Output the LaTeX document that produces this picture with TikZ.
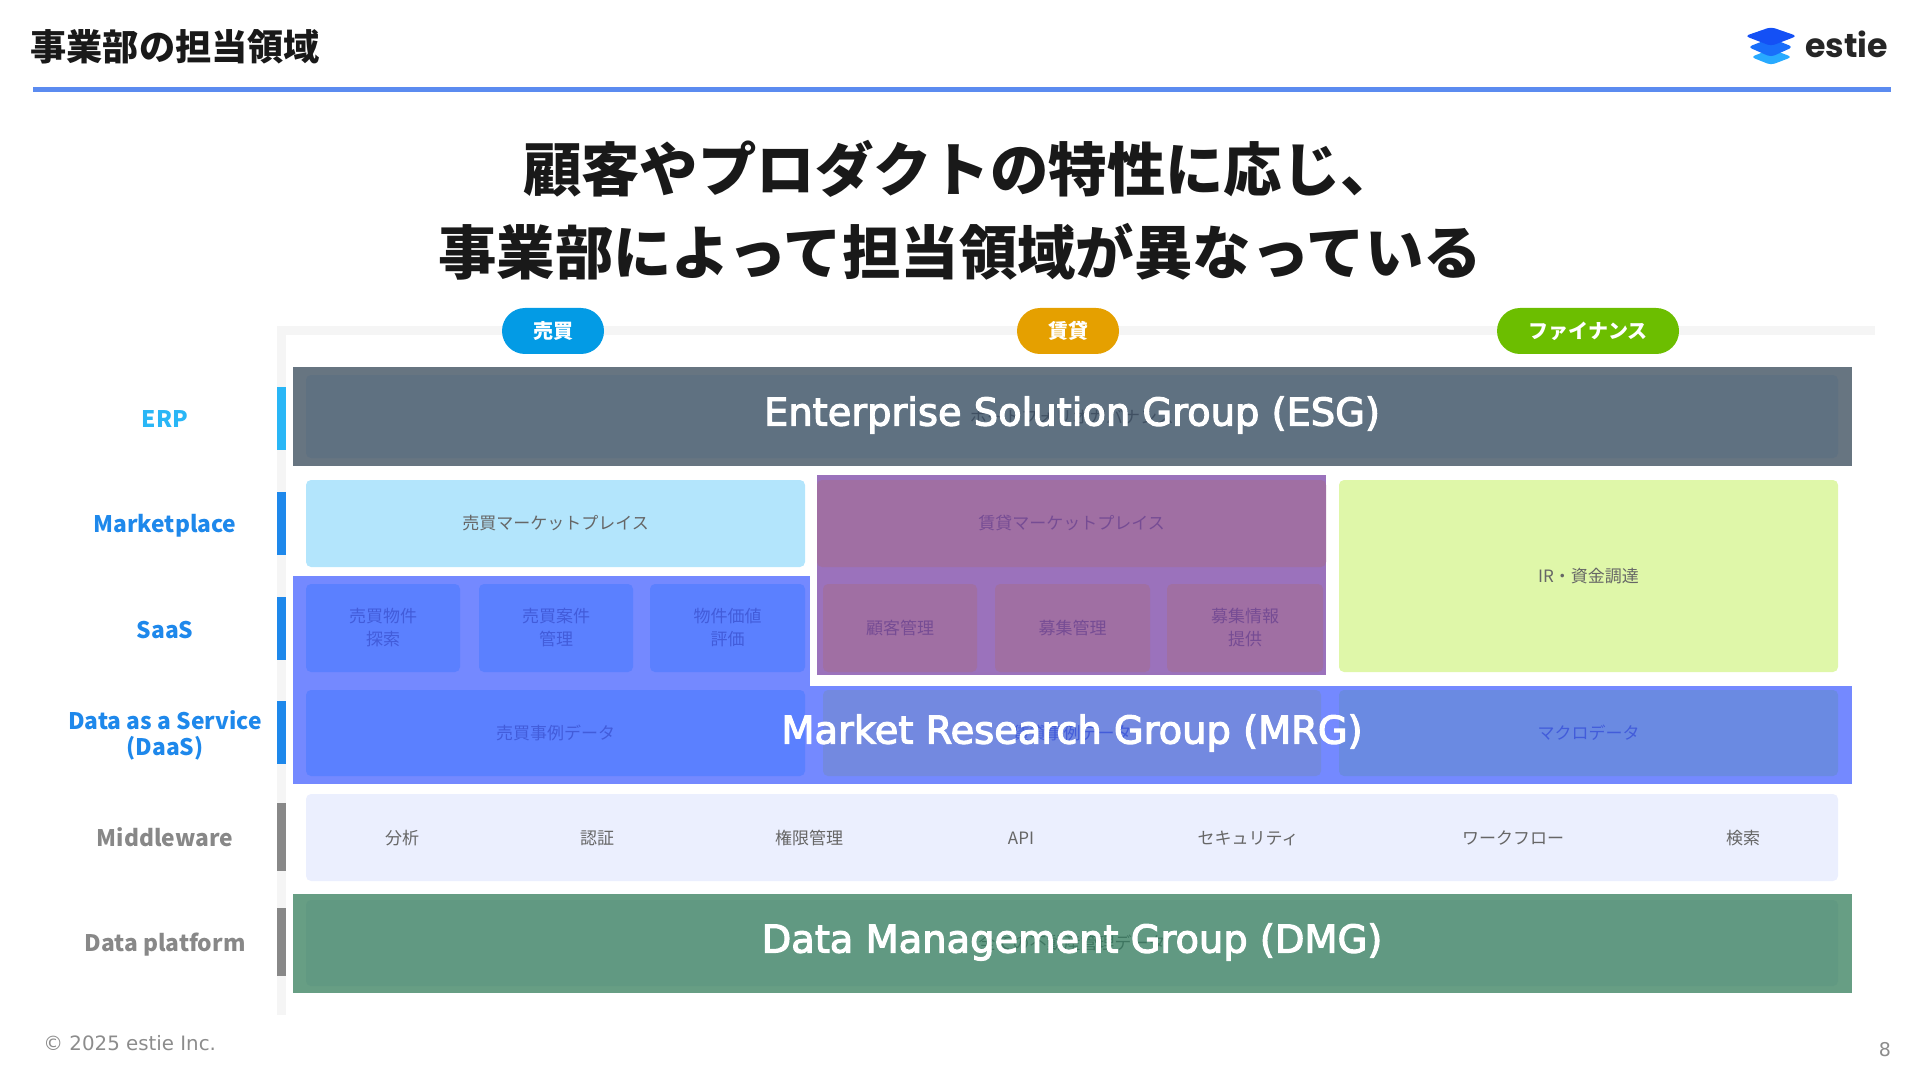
\documentclass[tikz,border=0pt]{standalone}
\usepackage{fontspec}
\setmainfont{Noto Sans CJK JP}
\newfontfamily\groupfont[FakeBold=3]{DejaVu Sans}
\newfontfamily\footfont{DejaVu Sans}
\newfontfamily\logofont{Poppins}
\usepackage{xcolor}
\definecolor{saleblue}{RGB}{3,155,229}
\definecolor{rentamber}{RGB}{229,160,0}
\definecolor{financegreen}{RGB}{108,190,0}
\definecolor{ruleblue}{RGB}{91,139,240}
\definecolor{bandgrey}{RGB}{245,245,245}
\definecolor{erpcyan}{RGB}{41,182,246}
\definecolor{layerblue}{RGB}{30,136,235}
\definecolor{layergrey}{RGB}{136,136,136}
\definecolor{esgslate}{RGB}{103,117,129}
\definecolor{esginner}{RGB}{95,113,129}
\definecolor{esgtext}{RGB}{64,80,98}
\definecolor{mrgblue}{RGB}{116,137,255}
\definecolor{tileblue}{RGB}{91,128,255}
\definecolor{tiletext}{RGB}{66,92,218}
\definecolor{saleplate}{RGB}{179,229,252}
\definecolor{rentviolet}{RGB}{155,114,188}
\definecolor{rentplum}{RGB}{160,111,163}
\definecolor{renttext}{RGB}{118,76,148}
\definecolor{rentdatafill}{RGB}{115,137,224}
\definecolor{macrofill}{RGB}{106,138,226}
\definecolor{fundfill}{RGB}{223,247,169}
\definecolor{middlefill}{RGB}{235,239,254}
\definecolor{dmggreen}{RGB}{103,158,132}
\definecolor{dmginner}{RGB}{97,153,130}
\definecolor{dmgtext}{RGB}{62,117,96}
\definecolor{logotop}{RGB}{20,80,245}
\definecolor{logomid}{RGB}{25,110,250}
\definecolor{logolow}{RGB}{40,170,255}
\usetikzlibrary{positioning}

\begin{document}
\begin{tikzpicture}[
  x=0.5pt, y=-0.5pt,
  wh/.style 2 args={minimum width=#1*0.5pt, minimum height=#2*0.5pt},
  plate/.style={anchor=north west, inner sep=0pt, outer sep=0pt},
  tile/.style={plate, rounded corners=2.5pt, align=center, font=\fontsize{8.5}{11.5}\selectfont, text=black!60},
  saletile/.style={tile, fill=tileblue, text=tiletext},
  renttile/.style={tile, fill=rentplum, text=renttext},
  grouptitle/.style={text=white, font=\groupfont\fontsize{19.2}{22}\selectfont},
  tick/.style={plate, wh={9}{#1}},
  layer/.style={font=\bfseries\fontsize{11.4}{13}\selectfont, align=center},
  pill/.style={rounded corners=11.5pt, minimum height=23pt, inner sep=0pt, text=white, font=\bfseries\fontsize{10}{12}\selectfont},
  mwitem/.style={font=\fontsize{8.5}{11}\selectfont, text=black!60},
  slidetitle/.style={font=\bfseries\fontsize{29.2}{34}\selectfont, text=black!90},
]
  \useasboundingbox (0,0) rectangle (1920,1080);

  % header
  \node[anchor=west, inner sep=0pt, font=\bfseries\fontsize{18.1}{20}\selectfont, text=black!90] (heading) at (30,47) {事業部の担当領域};
  \node[plate, fill=ruleblue, wh={1858}{5}] (headrule) at (33,87) {};
  \fill[rounded corners=2pt, fill=logolow] (1751,57) -- (1771,49) -- (1792,57) -- (1771,65) -- cycle;
  \fill[rounded corners=2pt, fill=logomid] (1748,47) -- (1771,38) -- (1793,47) -- (1771,57) -- cycle;
  \fill[rounded corners=2pt, fill=logotop] (1745,36) -- (1771,27) -- (1797,36) -- (1771,46) -- cycle;
  \node[anchor=west, inner sep=0pt, text=black!85, font=\logofont\bfseries\fontsize{16.6}{18}\selectfont] (logotext) at (1805,44) {estie};

  % slide title
  \node[slidetitle] (titleone) at (961,169) {顧客やプロダクトの特性に応じ、};
  \node[slidetitle] (titletwo) at (960,252) {事業部によって担当領域が異なっている};

  % axes
  \node[plate, fill=bandgrey, wh={1598}{9}] (bandtop) at (277,326) {};
  \node[plate, fill=bandgrey, wh={9}{689}] (bandleft) at (277,326) {};
  \node[pill, fill=saleblue, minimum width=51pt] (sale) at (553,331) {売買};
  \node[pill, fill=rentamber, minimum width=51pt] (rent) at (1068,331) {賃貸};
  \node[pill, fill=financegreen, minimum width=91pt] (finance) at (1588,331) {ファイナンス};

  % layer names and ticks
  \node[tick=63, fill=erpcyan] (erptick) at (277,387) {};
  \node[tick=63, fill=layerblue] (markettick) at (277,492) {};
  \node[tick=63, fill=layerblue] (saastick) at (277,597) {};
  \node[tick=63, fill=layerblue] (daastick) at (277,701) {};
  \node[tick=68, fill=layergrey] (middletick) at (277,803) {};
  \node[tick=68, fill=layergrey] (platformtick) at (277,908) {};
  \node[layer, text=erpcyan] (erp) at (165,419) {ERP};
  \node[layer, text=layerblue] (market) at (165,526) {Marketplace};
  \node[layer, text=layerblue] (saas) at (165,630) {SaaS};
  \node[layer, text=layerblue] (daas) at (165,735) {Data as a Service\\(DaaS)};
  \node[layer, text=layergrey] (middle) at (165,837) {Middleware};
  \node[layer, text=layergrey] (platform) at (165,945) {Data platform};

  % ESG
  \node[plate, fill=esgslate, wh={1559}{99}] (esg) at (293,367) {};
  \node[tile, fill=esginner, wh={1532}{83}, text=esgtext] (portfolio) at (306,375) {ポートフォリオガバナンス};
  \node[grouptitle] (esgtitle) at (1072,415) {Enterprise Solution Group (ESG)};

  % sale column
  \node[tile, fill=saleplate, wh={499}{87}] (salemarket) at (306,480) {売買マーケットプレイス};
  \node[plate, fill=mrgblue, wh={517}{110}] (mrgsale) at (293,576) {};
  \node[plate, fill=mrgblue, wh={1559}{98}] (mrg) at (293,686) {};
  \node[saletile, wh={154}{88}] (salesearch) at (306,584) {売買物件\\探索};
  \node[saletile, wh={154}{88}] (salecase) at (479,584) {売買案件\\管理};
  \node[saletile, wh={155}{88}] (saleprice) at (650,584) {物件価値\\評価};
  \node[saletile, wh={499}{86}] (saledata) at (306,690) {売買事例データ};

  % rent column
  \node[plate, fill=rentviolet, wh={509}{200}] (rentgroup) at (817,475) {};
  \node[renttile, wh={509}{87}] (rentmarket) at (817,480) {賃貸マーケットプレイス};
  \node[renttile, wh={154}{88}] (rentcustomer) at (823,584) {顧客管理};
  \node[renttile, wh={155}{88}] (rentrecruit) at (995,584) {募集管理};
  \node[renttile, wh={156}{88}] (rentinfo) at (1167,584) {募集情報\\提供};
  \node[tile, fill=rentdatafill, wh={498}{86}, text=tiletext] (rentdata) at (823,690) {賃貸事例データ};

  % finance column
  \node[tile, fill=fundfill, wh={499}{192}] (funding) at (1339,480) {IR・資金調達};
  \node[tile, fill=macrofill, wh={499}{86}, text=tiletext] (macro) at (1339,690) {マクロデータ};
  \node[grouptitle] (mrgtitle) at (1072,733) {Market Research Group (MRG)};

  % middleware
  \node[tile, fill=middlefill, wh={1532}{87}] (middlebox) at (306,794) {};
  \node[mwitem] (analysis) at (402,838) {分析};
  \node[mwitem] (auth) at (597,838) {認証};
  \node[mwitem] (rights) at (809,838) {権限管理};
  \node[mwitem] (api) at (1021,838) {API};
  \node[mwitem] (security) at (1248,838) {セキュリティ};
  \node[mwitem] (workflow) at (1513,838) {ワークフロー};
  \node[mwitem] (search) at (1743,838) {検索};

  % DMG
  \node[plate, fill=dmggreen, wh={1559}{99}] (dmg) at (293,894) {};
  \node[tile, fill=dmginner, wh={1532}{86}, text=dmgtext] (basedata) at (306,900) {全ての不動産管理データ};
  \node[grouptitle] (dmgtitle) at (1072,942) {Data Management Group (DMG)};

  % footer
  \node[anchor=west, inner sep=0pt, text=black!45, font=\footfont\fontsize{9.9}{11}\selectfont] (copyright) at (43,1043) {© 2025 estie Inc.};
  \node[inner sep=0pt, text=black!45, font=\footfont\fontsize{9.5}{11}\selectfont] (pagenum) at (1885,1050) {8};
\end{tikzpicture}
\end{document}
